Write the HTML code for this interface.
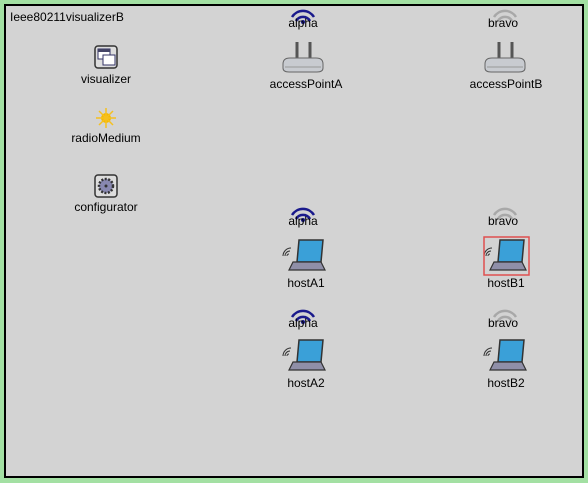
<!DOCTYPE html>
<html><head><style>
html,body{margin:0;padding:0;background:#a3e0a3;}
svg{display:block;}
text{font-family:"Liberation Sans","DejaVu Sans",sans-serif;font-size:12px;fill:#000;}
</style></head><body>
<svg width="588" height="483" viewBox="0 0 588 483" xmlns="http://www.w3.org/2000/svg">
<defs>
<g id="ap">
<line x1="-6" y1="-20" x2="-6" y2="0" stroke="#555" stroke-width="3"/>
<line x1="7" y1="-20" x2="7" y2="0" stroke="#555" stroke-width="3"/>
<path d="M-20,2 Q-20,-4 -13,-4 L13,-4 Q20,-4 20,2 L20,6 Q20,10 14,10 L-14,10 Q-20,10 -20,6Z" fill="#c8cbd0" stroke="#666"/>
<line x1="-18" y1="5" x2="18" y2="5" stroke="#999"/>
</g>
<g id="laptop">
<path d="M-6,-18 L18,-18 L16,4 L-8,4Z" fill="#3aa0d8" stroke="#333" stroke-width="1.5"/>
<path d="M-12,4 L16,4 L20,12 L-16,12Z" fill="#8f8fa8" stroke="#333" stroke-width="1.2"/>
<path d="M-20,-2 a5,5 0 0 1 5,-5 M-22,-2 a8,8 0 0 1 8,-8 M-18,-2 a2,2 0 0 1 2,-2" fill="none" stroke="#333" stroke-width="1"/>
</g>
<g id="wave">
<path d="M-11,-2 A13,13 0 0 1 11,-2" fill="none" stroke-width="2.5"/>
<path d="M-7,2 A8,8 0 0 1 7,2" fill="none" stroke-width="2.5"/>
</g>
</defs>
<rect x="5" y="5" width="578" height="472" fill="#d3d3d3" stroke="#000" stroke-width="2"/>
<text x="10" y="21">Ieee80211visualizerB</text>

<rect x="95" y="46" width="22" height="22" rx="3" fill="#ddd" stroke="#333" stroke-width="1.5"/>
<rect x="98" y="49" width="12" height="10" fill="#fff" stroke="#336"/>
<rect x="98" y="49" width="12" height="3" fill="#446"/>
<rect x="103" y="55" width="12" height="10" fill="#fff" stroke="#336"/>
<text x="106" y="83" text-anchor="middle">visualizer</text>
<circle cx="106" cy="118" r="5" fill="#f5b800"/>
<g stroke="#f5c020" stroke-width="1.5"><line x1="96" y1="118" x2="116" y2="118"/><line x1="106" y1="108" x2="106" y2="128"/><line x1="99" y1="111" x2="113" y2="125"/><line x1="113" y1="111" x2="99" y2="125"/></g>
<text x="106" y="142" text-anchor="middle">radioMedium</text>
<rect x="95" y="175" width="22" height="22" rx="3" fill="#ddd" stroke="#333" stroke-width="1.5"/>
<circle cx="106" cy="186" r="7" fill="#8888b0" stroke="#333" stroke-dasharray="2 1.5" stroke-width="2.5"/>
<circle cx="106" cy="186" r="1.5" fill="#333"/>
<text x="106" y="211" text-anchor="middle">configurator</text>

<use href="#wave" x="303" y="19" stroke="#1a1a8c"/><circle cx="303" cy="22" r="2" fill="#1a1a8c"/>
<text x="303" y="27" text-anchor="middle">alpha</text>
<use href="#ap" x="303" y="62"/>
<text x="306" y="88" text-anchor="middle">accessPointA</text>
<use href="#wave" x="505" y="19" stroke="#a8a8a8"/>
<text x="503" y="27" text-anchor="middle">bravo</text>
<use href="#ap" x="505" y="62"/>
<text x="506" y="88" text-anchor="middle">accessPointB</text>

<use href="#wave" x="303" y="217" stroke="#1a1a8c"/><circle cx="303" cy="220" r="2" fill="#1a1a8c"/>
<text x="303" y="225" text-anchor="middle">alpha</text>
<use href="#laptop" x="305" y="258"/>
<text x="306" y="287" text-anchor="middle">hostA1</text>
<use href="#wave" x="505" y="217" stroke="#a8a8a8"/>
<text x="503" y="225" text-anchor="middle">bravo</text>
<use href="#laptop" x="506" y="258"/>
<rect x="484" y="237" width="45" height="38" fill="none" stroke="#e05050" stroke-width="1.5"/>
<text x="506" y="287" text-anchor="middle">hostB1</text>

<use href="#wave" x="303" y="319" stroke="#1a1a8c"/><circle cx="303" cy="322" r="2" fill="#1a1a8c"/>
<text x="303" y="327" text-anchor="middle">alpha</text>
<use href="#laptop" x="305" y="358"/>
<text x="306" y="387" text-anchor="middle">hostA2</text>
<use href="#wave" x="505" y="319" stroke="#a8a8a8"/>
<text x="503" y="327" text-anchor="middle">bravo</text>
<use href="#laptop" x="506" y="358"/>
<text x="506" y="387" text-anchor="middle">hostB2</text>
</svg>
</body></html>
